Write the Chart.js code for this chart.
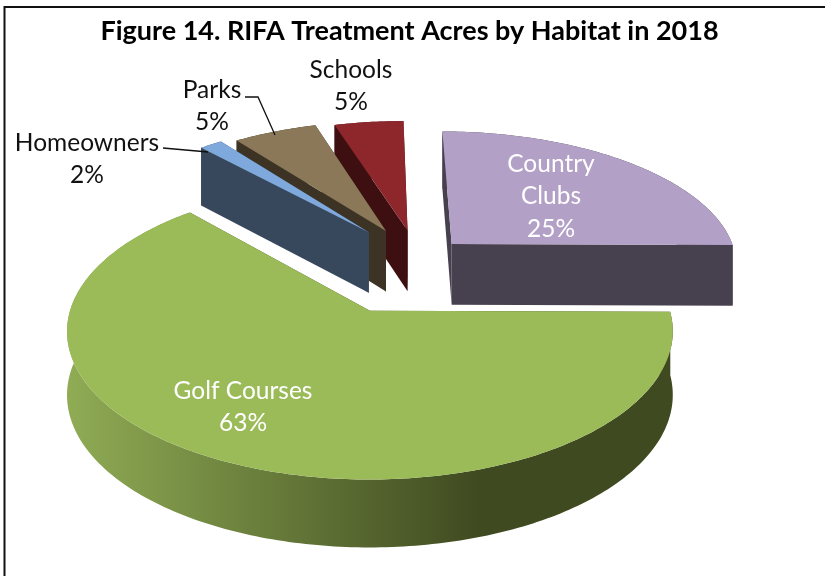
<!DOCTYPE html>
<html><head><meta charset="utf-8">
<style>html,body{margin:0;padding:0;background:#fff}canvas{display:block}</style>
<script src="https://cdn.jsdelivr.net/npm/chart.js@4/dist/chart.umd.min.js"></script>
</head><body><canvas id="c" width="825" height="576"></canvas>
<script>
const titleText = 'Figure 14. RIFA Treatment Acres by Habitat in 2018';
const categories = ['Country Clubs','Golf Courses','Homeowners','Parks','Schools'];
const values = [25,63,1.5,5.5,4.5];
const topColors = ['#b2a0c7','#9bbb59','#7fa9dd','#8a7859','#8e272c'];
const wallColors = ['#47404f','#3f4a20','#38485c','#3c3325','#3e0f10'];
const explode = [0.173,0.406,0.275,0.25,0.23];
const labelLines = [['Country','Clubs','25%'],['Golf Courses','63%'],['Homeowners','2%'],['Parks','5%'],['Schools','5%']];
const labelColors = ['#fff','#fff','#111','#111','#111'];
const labelPos = [[551,164],[243,391],[87,143],[212,90],[351,70]];
const leaders = [null,null,[[163,148],[208,152]],[[245,97],[258,97],[275,135]],null];

// view of the pie plane
const VIEW = {cx:372,cy:311,R:300,k:145.3,p:0.14,cu:0.161,cw:-0.372,depth:63};
function proj(u,w,down){
  const f = 1/(1-VIEW.p*w);
  const X = VIEW.cx + VIEW.R*u*f;
  const Y = VIEW.cy + VIEW.k*w*f + (down? VIEW.depth*Math.sqrt(f):0);
  return [X,Y];
}
function poly(ctx,pts,fill){
  ctx.beginPath();
  pts.forEach((q,i)=> i?ctx.lineTo(q[0],q[1]):ctx.moveTo(q[0],q[1]));
  ctx.closePath();
  ctx.fillStyle=fill; ctx.fill();
}
function wallPts(a){
  const top=a.map(q=>proj(q[0],q[1]));
  const bot=a.map(q=>proj(q[0],q[1],true)).reverse();
  return top.concat(bot);
}
const pie3d = {
  id:'pie3d',
  beforeDatasetsDraw(chart){
    const ctx = chart.ctx, arcs = chart.getDatasetMeta(0).data;
    const slices = arcs.map((a,i)=>{
      const mid=(a.startAngle+a.endAngle)/2;
      const ou=VIEW.cu+explode[i]*Math.cos(mid), ow=VIEW.cw+explode[i]*Math.sin(mid);
      const n=Math.max(4,Math.ceil((a.endAngle-a.startAngle)*60));
      const rim=[];
      for(let j=0;j<=n;j++){const t=a.startAngle+(a.endAngle-a.startAngle)*j/n;
        rim.push([ou+Math.cos(t),ow+Math.sin(t)]);}
      return {i,ou,ow,rim,order:ow+Math.sin(mid)*0.5};
    }).sort((p,q)=>p.order-q.order);
    ctx.save();
    slices.forEach(s=>{
      let wall = wallColors[s.i];
      if(categories[s.i]==='Golf Courses'){
        const g=ctx.createLinearGradient(70,0,480,0);
        g.addColorStop(0,'#8fab54'); g.addColorStop(1,wallColors[s.i]);
        wall=g;
      }
      const apex=[s.ou,s.ow];
      const first=[apex,s.rim[0]], last=[apex,s.rim[s.rim.length-1]];
      poly(ctx,wallPts(first),wallColors[s.i]);
      poly(ctx,wallPts(last),wallColors[s.i]);
      poly(ctx,wallPts(s.rim),wall);
      poly(ctx,[apex,...s.rim].map(q=>proj(q[0],q[1])),topColors[s.i]);
    });
    ctx.restore();
    return false;
  },
  afterDraw(chart){
    const ctx=chart.ctx;
    ctx.save();
    // frame
    ctx.strokeStyle='#111'; ctx.lineWidth=2;
    ctx.beginPath(); ctx.moveTo(4.5,576); ctx.lineTo(4.5,7); ctx.lineTo(825,7); ctx.stroke();
    // leaders
    ctx.strokeStyle='#111'; ctx.lineWidth=1.3;
    leaders.forEach(l=>{ if(!l)return; ctx.beginPath(); l.forEach((q,i)=>i?ctx.lineTo(q[0],q[1]):ctx.moveTo(q[0],q[1])); ctx.stroke(); });
    // labels
    ctx.font='24.5px Lato'; ctx.textAlign='center'; ctx.textBaseline='middle';
    labelLines.forEach((ls,i)=>{
      ctx.fillStyle=labelColors[i];
      ls.forEach((t,j)=>ctx.fillText(t,labelPos[i][0],labelPos[i][1]+j*32.3));
    });
    ctx.restore();
  }
};
new Chart(document.getElementById('c'),{
  type:'pie',
  data:{labels:categories,datasets:[{data:values,backgroundColor:topColors,borderWidth:0}]},
  options:{
    responsive:false,animation:false,
    layout:{padding:{right:6}},
    plugins:{
      legend:{display:false},tooltip:{enabled:false},
      title:{display:true,text:titleText,color:'#000',font:{family:'Lato',weight:'bold',size:27},padding:{top:15,bottom:6}}
    }
  },
  plugins:[pie3d]
});
</script></body></html>
